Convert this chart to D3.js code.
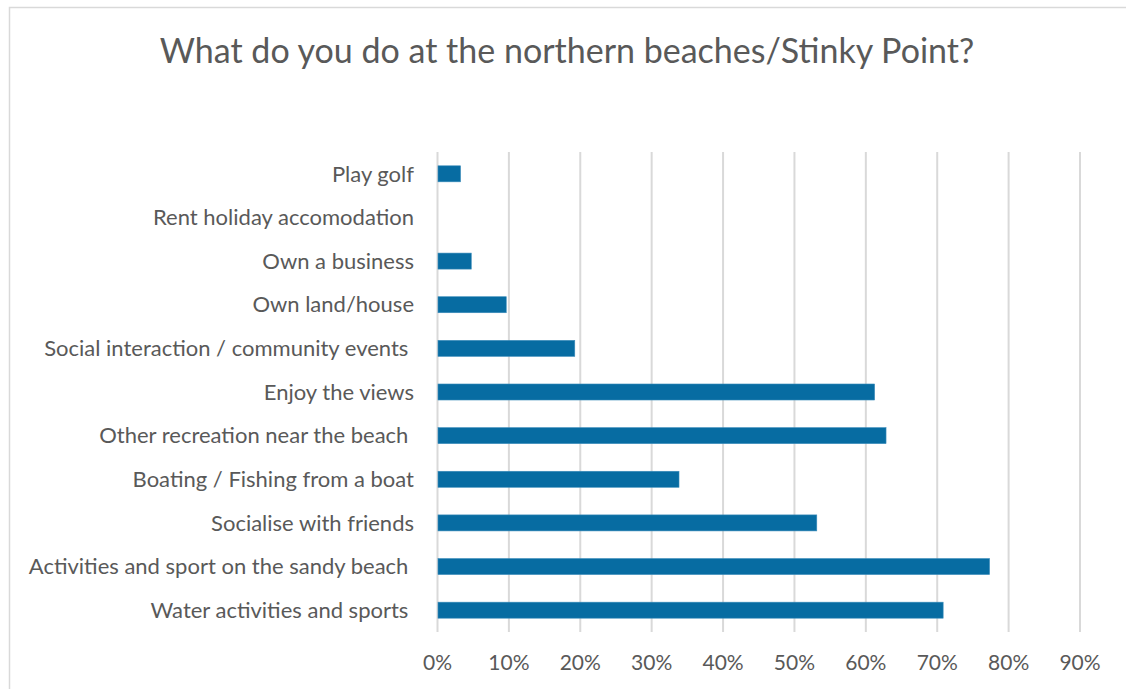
<!DOCTYPE html>
<html>
<head>
<meta charset="utf-8">
<script src="https://cdn.jsdelivr.net/npm/d3@7"></script>
<style>
  html, body { margin: 0; padding: 0; background: #fff; }
  svg text { white-space: pre; }
</style>
</head>
<body>
<svg id="chart" width="1126" height="689"></svg>
<script>
// Survey responses: share of respondents doing each activity
const categories = [
  "Play golf",
  "Rent holiday accomodation",
  "Own a business",
  "Own land/house",
  "Social interaction / community events ",
  "Enjoy the views",
  "Other recreation near the beach ",
  "Boating / Fishing from a boat",
  "Socialise with friends",
  "Activities and sport on the sandy beach ",
  "Water activities and sports "
];
const shares = [0.033, 0, 0.048, 0.097, 0.193, 0.613, 0.629, 0.339, 0.532, 0.774, 0.709];
const tickValues = [0, 0.1, 0.2, 0.3, 0.4, 0.5, 0.6, 0.7, 0.8, 0.9];
const title = "What do you do at the northern beaches/Stinky Point?";

const svg = d3.select("#chart");
const W = 1126, H = 689;
const plot = { left: 437, right: 1079.5, top: 152, bottom: 632 };
const FONT = "Lato, 'Open Sans', sans-serif";
const TEXT = "#595959";
const GRID = "#d9d9d9";

// chart frame
svg.append("path")
  .attr("d", `M9.5,${H} V7.5 H${W}`)
  .attr("fill", "none").attr("stroke", GRID).attr("stroke-width", 1.5);

svg.append("text")
  .attr("x", 567).attr("y", 63)
  .attr("text-anchor", "middle")
  .attr("font-family", FONT).attr("font-size", 34)
  .attr("fill", TEXT)
  .text(title);

const x = d3.scaleLinear().domain([0, 0.9]).range([plot.left, plot.right]);
const y = d3.scaleBand().domain(categories).range([plot.top, plot.bottom])
  .paddingInner(0.633).paddingOuter(0.3165);

// vertical gridlines
const xAxis = d3.axisBottom(x).tickValues(tickValues)
  .tickFormat(d3.format(".0%")).tickSize(-(plot.bottom - plot.top)).tickPadding(0);
const gx = svg.append("g").attr("transform", `translate(0,${plot.bottom})`).call(xAxis);
gx.select(".domain").remove();
gx.selectAll(".tick line").attr("stroke", GRID).attr("stroke-width", 2);
gx.selectAll(".tick text")
  .attr("y", 38).attr("dy", null)
  .attr("font-family", FONT).attr("font-size", 21).attr("fill", TEXT);

// category labels
const yAxis = d3.axisLeft(y).tickSize(0).tickPadding(23);
const gy = svg.append("g").attr("transform", `translate(${plot.left},0)`).call(yAxis);
gy.select(".domain").remove();
gy.selectAll(".tick text")
  .attr("font-family", FONT).attr("font-size", 22).attr("fill", TEXT)
  .attr("dy", "0.35em");

// bars
svg.append("g").selectAll("rect")
  .data(categories.map((c, i) => ({ c, v: shares[i] })))
  .join("rect")
  .attr("x", x(0) + 1)
  .attr("y", d => y(d.c))
  .attr("width", d => Math.max(0, x(d.v) - x(0) - 1))
  .attr("height", y.bandwidth())
  .attr("fill", "#076ca2")
  .attr("stroke", d => d.v > 0 ? "#3c8dbb" : "none")
  .attr("stroke-width", 0.6);
</script>
</body>
</html>
